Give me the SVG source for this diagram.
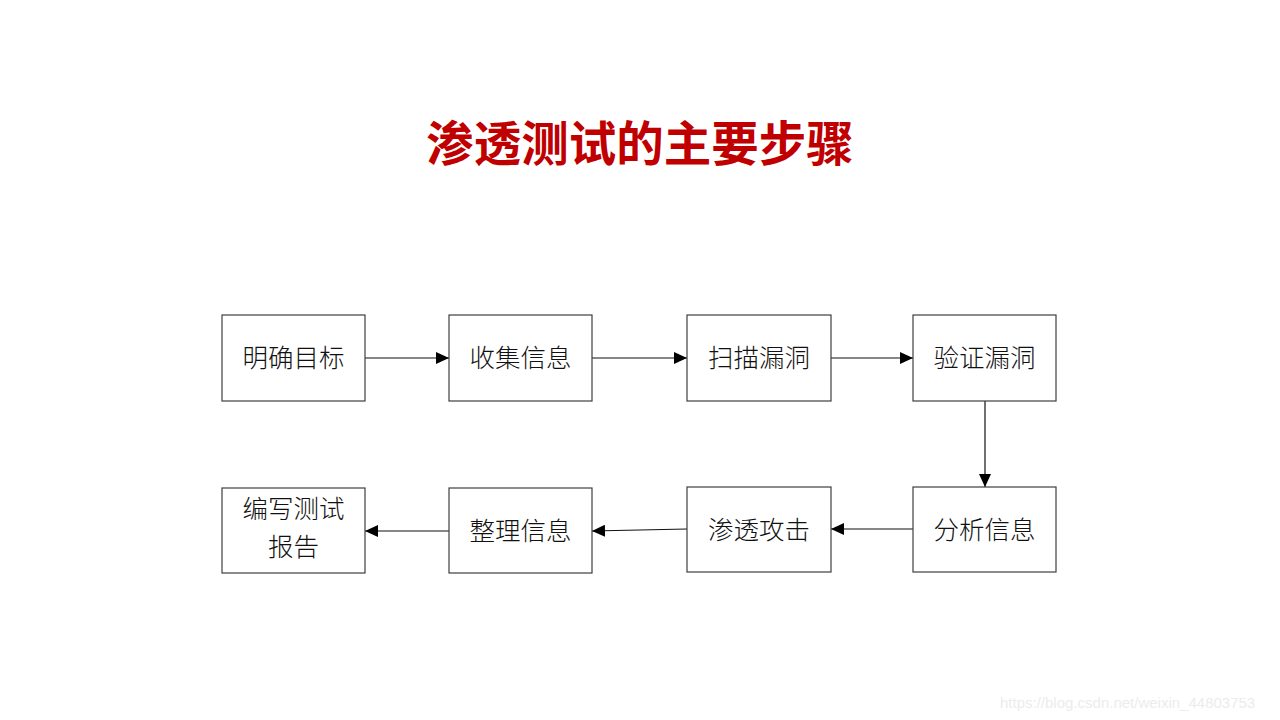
<svg xmlns="http://www.w3.org/2000/svg" width="1280" height="720" viewBox="0 0 1280 720">
<style>
.box{fill:#fff;stroke:#3f3f3f;stroke-width:1.2}
.lbl{font-family:"Noto Sans CJK SC","Noto Sans CJK JP",sans-serif;font-size:25.5px;font-weight:300;fill:#111;text-anchor:middle}
.title{font-family:"Noto Sans CJK SC",sans-serif;font-size:47.5px;font-weight:700;fill:#c00000;text-anchor:middle}
.conn{stroke:#111;stroke-width:1.2;fill:none;marker-end:url(#ah)}
.wm{font-family:"Liberation Sans",sans-serif;font-size:15px;fill:#ececec}
</style>
<defs>
<marker id="ah" viewBox="0 0 13 12" refX="13" refY="6" markerWidth="13" markerHeight="12" markerUnits="userSpaceOnUse" orient="auto">
<path d="M0,0 L13,6 L0,12 Z" fill="#000"/>
</marker>
</defs>
<rect width="1280" height="720" fill="#fff"/>
<text class="title" x="640" y="161">渗透测试的主要步骤</text>
<g id="connectors">
<line class="conn" x1="365" y1="358" x2="449" y2="358"/>
<line class="conn" x1="592" y1="358" x2="687" y2="358"/>
<line class="conn" x1="831" y1="358" x2="913" y2="358"/>
<line class="conn" x1="985" y1="401" x2="985" y2="487"/>
<line class="conn" x1="913" y1="529" x2="831" y2="529"/>
<line class="conn" x1="687" y1="529" x2="592" y2="531"/>
<line class="conn" x1="449" y1="531" x2="365" y2="531"/>
</g>
<g id="n1"><rect class="box" x="222" y="315" width="143" height="86"/><text class="lbl" x="293.5" y="367">明确目标</text></g>
<g id="n2"><rect class="box" x="449" y="315" width="143" height="86"/><text class="lbl" x="520.5" y="367">收集信息</text></g>
<g id="n3"><rect class="box" x="687" y="315" width="144" height="86"/><text class="lbl" x="759" y="367">扫描漏洞</text></g>
<g id="n4"><rect class="box" x="913" y="315" width="143" height="86"/><text class="lbl" x="984.5" y="367">验证漏洞</text></g>
<g id="n5"><rect class="box" x="913" y="487" width="143" height="85"/><text class="lbl" x="984.5" y="539">分析信息</text></g>
<g id="n6"><rect class="box" x="687" y="487" width="144" height="85"/><text class="lbl" x="759" y="539">渗透攻击</text></g>
<g id="n7"><rect class="box" x="449" y="488" width="143" height="85"/><text class="lbl" x="520.5" y="540">整理信息</text></g>
<g id="n8"><rect class="box" x="222" y="488" width="143" height="85"/><text class="lbl" x="293.5" y="518">编写测试</text><text class="lbl" x="293.5" y="556">报告</text></g>
<text class="wm" x="1000" y="708">https://blog.csdn.net/weixin_44803753</text>
</svg>
